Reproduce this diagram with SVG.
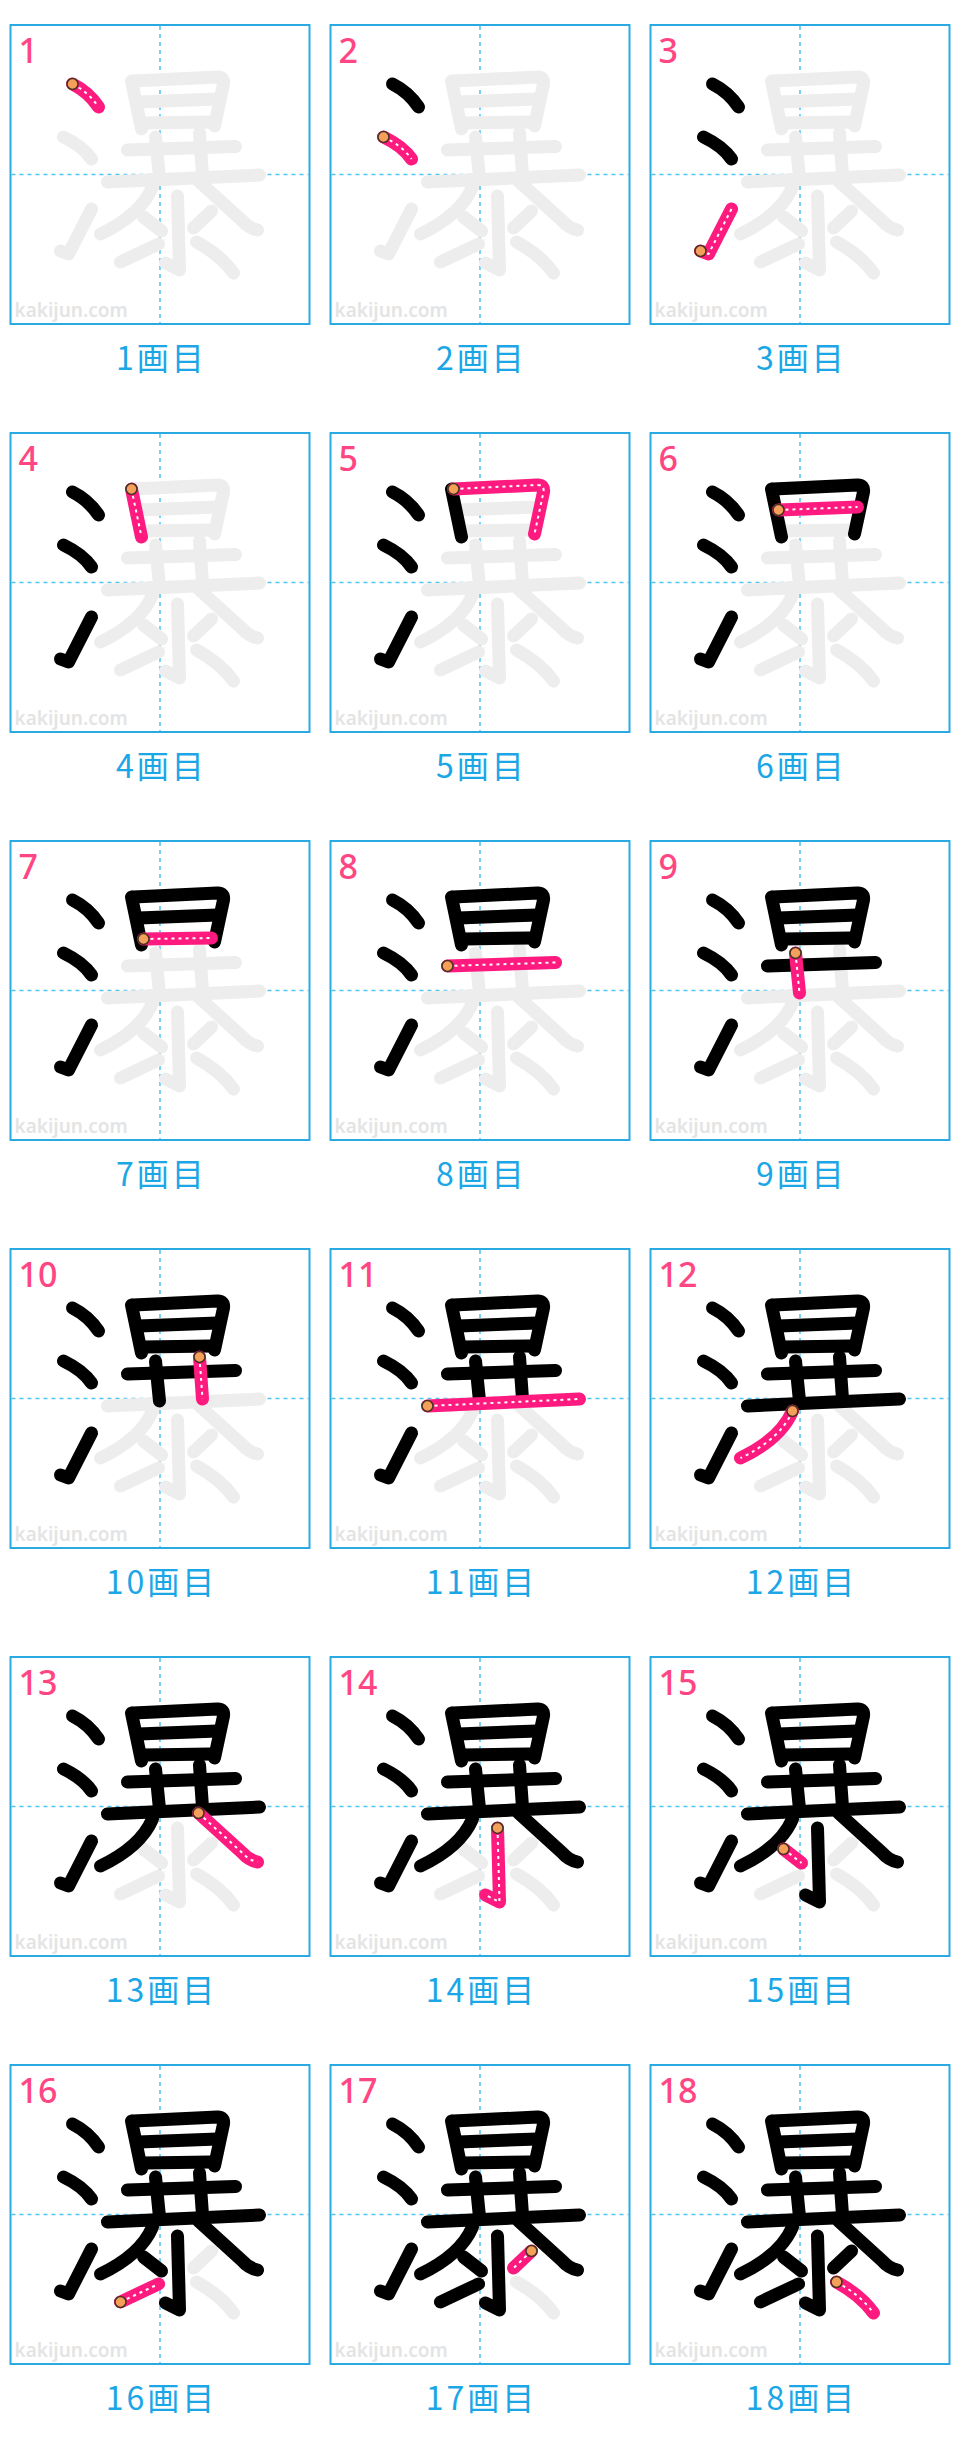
<svg xmlns="http://www.w3.org/2000/svg" xmlns:xlink="http://www.w3.org/1999/xlink" width="960" height="2448" viewBox="0 0 960 2448">
<style>
.box{fill:#fff;stroke:#29abe2;stroke-width:2}
.guide{stroke:#4fc3f7;stroke-width:1.5;stroke-dasharray:4 4;fill:none}
.s{fill:none;stroke-linecap:round;stroke-linejoin:round;stroke-width:13}
.g{stroke:#ededed}
.k{stroke:#000}
.p{stroke:#ff1a7f}
.dot{fill:none;stroke:#fff;stroke-width:2;stroke-dasharray:3 4;stroke-linecap:butt;stroke-linejoin:round}
.st{fill:#f5a05a;stroke:#4a3020;stroke-width:1.5}
.num{font-family:"Noto Sans",sans-serif;font-size:34px;font-weight:500;fill:#ff4683}
.wm{font-family:"Noto Sans",sans-serif;font-size:19px;font-weight:600;fill:#e4e4e4}
.lab{font-family:"Noto Sans CJK JP",sans-serif;font-size:32px;letter-spacing:3px;fill:#1ba6e6;text-anchor:middle}
</style>
<defs>
<path id="s1" d="M62,59 Q78,67 88,82"/>
<path id="s2" d="M53,112 Q72,121 81,134"/>
<path id="s3" d="M50,226 L58,229 L81,184"/>
<path id="s4" d="M121,56 L131,104"/>
<path id="s5" d="M123,56 L207,52 Q214,52 213,59 L204,101"/>
<path id="s6" d="M128,77 L207,74"/>
<path id="s7" d="M133,98 L201,97"/>
<path id="s8" d="M117,125 L225,121.5"/>
<path id="s9" d="M145,112 L149,152"/>
<path id="s10" d="M189,108 L192,150"/>
<path id="s11" d="M97,157 L249,150"/>
<path id="s12" d="M142,162 Q130,190 90,209"/>
<path id="s13" d="M188,156 L232,196 Q238,203 247,205"/>
<path id="s14" d="M167,171 L169,245 L155,238"/>
<path id="s15" d="M133,192 L151,206"/>
<path id="s16" d="M110,237 L148,219"/>
<path id="s17" d="M201,186 L183,203"/>
<path id="s18" d="M186,217 Q210,230 223,248"/>
<g id="all">
<use href="#s1"/><use href="#s2"/><use href="#s3"/><use href="#s4"/><use href="#s5"/><use href="#s6"/><use href="#s7"/><use href="#s8"/><use href="#s9"/><use href="#s10"/><use href="#s11"/><use href="#s12"/><use href="#s13"/><use href="#s14"/><use href="#s15"/><use href="#s16"/><use href="#s17"/><use href="#s18"/>
</g>
<g id="frame">
<rect class="box" x="0" y="0" width="299" height="299"/>
<line class="guide" x1="149.5" y1="1" x2="149.5" y2="298"/>
<line class="guide" x1="1" y1="149.5" x2="298" y2="149.5"/>
<text class="wm" x="4" y="292">kakijun.com</text>
<use href="#all" class="s g"/>
</g>
</defs>

<g id="p1" transform="translate(10.5,25)">
<use href="#frame"/>
<use href="#s1" class="s p"/><use href="#s1" class="dot"/><circle class="st" cx="62" cy="59" r="5.5"/>
<text class="num" x="8" y="38">1</text>
<text class="lab" x="151" y="345">1画目</text>
</g>
<g id="p2" transform="translate(330.5,25)">
<use href="#frame"/>
<g class="s k"><use href="#s1"/></g>
<use href="#s2" class="s p"/><use href="#s2" class="dot"/><circle class="st" cx="53" cy="112" r="5.5"/>
<text class="num" x="8" y="38">2</text>
<text class="lab" x="151" y="345">2画目</text>
</g>
<g id="p3" transform="translate(650.5,25)">
<use href="#frame"/>
<g class="s k"><use href="#s1"/><use href="#s2"/></g>
<use href="#s3" class="s p"/><use href="#s3" class="dot"/><circle class="st" cx="50" cy="226" r="5.5"/>
<text class="num" x="8" y="38">3</text>
<text class="lab" x="151" y="345">3画目</text>
</g>

<g id="p4" transform="translate(10.5,433)">
<use href="#frame"/>
<g class="s k"><use href="#s1"/><use href="#s2"/><use href="#s3"/></g>
<use href="#s4" class="s p"/><use href="#s4" class="dot"/><circle class="st" cx="121" cy="56" r="5.5"/>
<text class="num" x="8" y="38">4</text>
<text class="lab" x="151" y="345">4画目</text>
</g>
<g id="p5" transform="translate(330.5,433)">
<use href="#frame"/>
<g class="s k"><use href="#s1"/><use href="#s2"/><use href="#s3"/><use href="#s4"/></g>
<use href="#s5" class="s p"/><use href="#s5" class="dot"/><circle class="st" cx="123" cy="56" r="5.5"/>
<text class="num" x="8" y="38">5</text>
<text class="lab" x="151" y="345">5画目</text>
</g>
<g id="p6" transform="translate(650.5,433)">
<use href="#frame"/>
<g class="s k"><use href="#s1"/><use href="#s2"/><use href="#s3"/><use href="#s4"/><use href="#s5"/></g>
<use href="#s6" class="s p"/><use href="#s6" class="dot"/><circle class="st" cx="128" cy="77" r="5.5"/>
<text class="num" x="8" y="38">6</text>
<text class="lab" x="151" y="345">6画目</text>
</g>

<g id="p7" transform="translate(10.5,841)">
<use href="#frame"/>
<g class="s k"><use href="#s1"/><use href="#s2"/><use href="#s3"/><use href="#s4"/><use href="#s5"/><use href="#s6"/></g>
<use href="#s7" class="s p"/><use href="#s7" class="dot"/><circle class="st" cx="133" cy="98" r="5.5"/>
<text class="num" x="8" y="38">7</text>
<text class="lab" x="151" y="345">7画目</text>
</g>
<g id="p8" transform="translate(330.5,841)">
<use href="#frame"/>
<g class="s k"><use href="#s1"/><use href="#s2"/><use href="#s3"/><use href="#s4"/><use href="#s5"/><use href="#s6"/><use href="#s7"/></g>
<use href="#s8" class="s p"/><use href="#s8" class="dot"/><circle class="st" cx="117" cy="125" r="5.5"/>
<text class="num" x="8" y="38">8</text>
<text class="lab" x="151" y="345">8画目</text>
</g>
<g id="p9" transform="translate(650.5,841)">
<use href="#frame"/>
<g class="s k"><use href="#s1"/><use href="#s2"/><use href="#s3"/><use href="#s4"/><use href="#s5"/><use href="#s6"/><use href="#s7"/><use href="#s8"/></g>
<use href="#s9" class="s p"/><use href="#s9" class="dot"/><circle class="st" cx="145" cy="112" r="5.5"/>
<text class="num" x="8" y="38">9</text>
<text class="lab" x="151" y="345">9画目</text>
</g>

<g id="p10" transform="translate(10.5,1249)">
<use href="#frame"/>
<g class="s k"><use href="#s1"/><use href="#s2"/><use href="#s3"/><use href="#s4"/><use href="#s5"/><use href="#s6"/><use href="#s7"/><use href="#s8"/><use href="#s9"/></g>
<use href="#s10" class="s p"/><use href="#s10" class="dot"/><circle class="st" cx="189" cy="108" r="5.5"/>
<text class="num" x="8" y="38">10</text>
<text class="lab" x="151" y="345">10画目</text>
</g>
<g id="p11" transform="translate(330.5,1249)">
<use href="#frame"/>
<g class="s k"><use href="#s1"/><use href="#s2"/><use href="#s3"/><use href="#s4"/><use href="#s5"/><use href="#s6"/><use href="#s7"/><use href="#s8"/><use href="#s9"/><use href="#s10"/></g>
<use href="#s11" class="s p"/><use href="#s11" class="dot"/><circle class="st" cx="97" cy="157" r="5.5"/>
<text class="num" x="8" y="38">11</text>
<text class="lab" x="151" y="345">11画目</text>
</g>
<g id="p12" transform="translate(650.5,1249)">
<use href="#frame"/>
<g class="s k"><use href="#s1"/><use href="#s2"/><use href="#s3"/><use href="#s4"/><use href="#s5"/><use href="#s6"/><use href="#s7"/><use href="#s8"/><use href="#s9"/><use href="#s10"/><use href="#s11"/></g>
<use href="#s12" class="s p"/><use href="#s12" class="dot"/><circle class="st" cx="142" cy="162" r="5.5"/>
<text class="num" x="8" y="38">12</text>
<text class="lab" x="151" y="345">12画目</text>
</g>

<g id="p13" transform="translate(10.5,1657)">
<use href="#frame"/>
<g class="s k"><use href="#s1"/><use href="#s2"/><use href="#s3"/><use href="#s4"/><use href="#s5"/><use href="#s6"/><use href="#s7"/><use href="#s8"/><use href="#s9"/><use href="#s10"/><use href="#s11"/><use href="#s12"/></g>
<use href="#s13" class="s p"/><use href="#s13" class="dot"/><circle class="st" cx="188" cy="156" r="5.5"/>
<text class="num" x="8" y="38">13</text>
<text class="lab" x="151" y="345">13画目</text>
</g>
<g id="p14" transform="translate(330.5,1657)">
<use href="#frame"/>
<g class="s k"><use href="#s1"/><use href="#s2"/><use href="#s3"/><use href="#s4"/><use href="#s5"/><use href="#s6"/><use href="#s7"/><use href="#s8"/><use href="#s9"/><use href="#s10"/><use href="#s11"/><use href="#s12"/><use href="#s13"/></g>
<use href="#s14" class="s p"/><use href="#s14" class="dot"/><circle class="st" cx="167" cy="171" r="5.5"/>
<text class="num" x="8" y="38">14</text>
<text class="lab" x="151" y="345">14画目</text>
</g>
<g id="p15" transform="translate(650.5,1657)">
<use href="#frame"/>
<g class="s k"><use href="#s1"/><use href="#s2"/><use href="#s3"/><use href="#s4"/><use href="#s5"/><use href="#s6"/><use href="#s7"/><use href="#s8"/><use href="#s9"/><use href="#s10"/><use href="#s11"/><use href="#s12"/><use href="#s13"/><use href="#s14"/></g>
<use href="#s15" class="s p"/><use href="#s15" class="dot"/><circle class="st" cx="133" cy="192" r="5.5"/>
<text class="num" x="8" y="38">15</text>
<text class="lab" x="151" y="345">15画目</text>
</g>

<g id="p16" transform="translate(10.5,2065)">
<use href="#frame"/>
<g class="s k"><use href="#s1"/><use href="#s2"/><use href="#s3"/><use href="#s4"/><use href="#s5"/><use href="#s6"/><use href="#s7"/><use href="#s8"/><use href="#s9"/><use href="#s10"/><use href="#s11"/><use href="#s12"/><use href="#s13"/><use href="#s14"/><use href="#s15"/></g>
<use href="#s16" class="s p"/><use href="#s16" class="dot"/><circle class="st" cx="110" cy="237" r="5.5"/>
<text class="num" x="8" y="38">16</text>
<text class="lab" x="151" y="345">16画目</text>
</g>
<g id="p17" transform="translate(330.5,2065)">
<use href="#frame"/>
<g class="s k"><use href="#s1"/><use href="#s2"/><use href="#s3"/><use href="#s4"/><use href="#s5"/><use href="#s6"/><use href="#s7"/><use href="#s8"/><use href="#s9"/><use href="#s10"/><use href="#s11"/><use href="#s12"/><use href="#s13"/><use href="#s14"/><use href="#s15"/><use href="#s16"/></g>
<use href="#s17" class="s p"/><use href="#s17" class="dot"/><circle class="st" cx="201" cy="186" r="5.5"/>
<text class="num" x="8" y="38">17</text>
<text class="lab" x="151" y="345">17画目</text>
</g>
<g id="p18" transform="translate(650.5,2065)">
<use href="#frame"/>
<g class="s k"><use href="#s1"/><use href="#s2"/><use href="#s3"/><use href="#s4"/><use href="#s5"/><use href="#s6"/><use href="#s7"/><use href="#s8"/><use href="#s9"/><use href="#s10"/><use href="#s11"/><use href="#s12"/><use href="#s13"/><use href="#s14"/><use href="#s15"/><use href="#s16"/><use href="#s17"/></g>
<use href="#s18" class="s p"/><use href="#s18" class="dot"/><circle class="st" cx="186" cy="217" r="5.5"/>
<text class="num" x="8" y="38">18</text>
<text class="lab" x="151" y="345">18画目</text>
</g>
</svg>
